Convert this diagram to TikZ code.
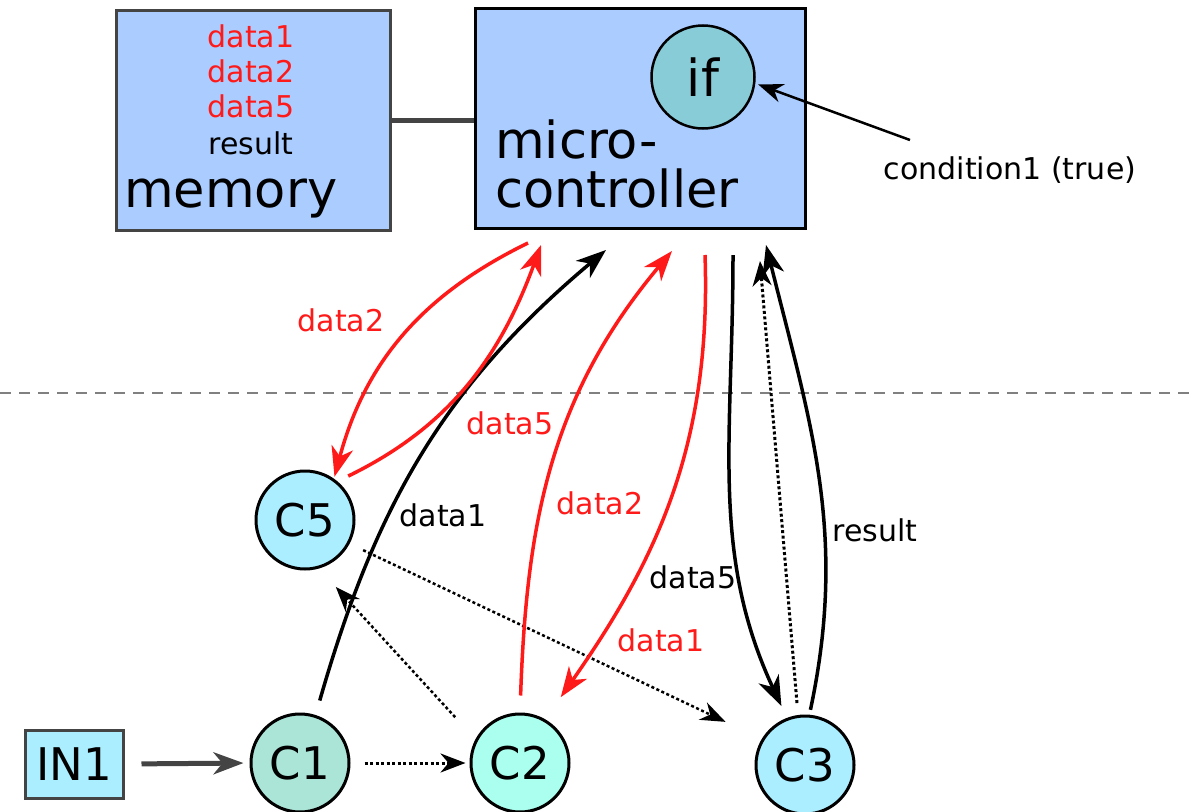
\documentclass[tikz,border=0pt]{standalone}
\usepackage{fontspec}
\setmainfont{DejaVu Sans}
\usetikzlibrary{arrows.meta}
\definecolor{boxblue}{HTML}{AACCFF}
\definecolor{iffill}{HTML}{88CCD8}
\definecolor{cyanfill}{HTML}{AAEEFF}
\definecolor{cafill}{HTML}{AAE5D8}
\definecolor{cbfill}{HTML}{AAFFEE}
\definecolor{dgray}{HTML}{444444}
\definecolor{lred}{HTML}{FF1A1A}
\newcommand\Bigfnt{\fontsize{51}{51}\selectfont}
\newcommand\labfnt{\fontsize{30}{30}\selectfont}
\newcommand\cfnt{\fontsize{45}{45}\selectfont}
\begin{document}
\begin{tikzpicture}[x=1pt,y=1pt,
  bigtip/.style={-{Stealth[length=30pt,width=22pt,inset=9pt]}},
  smalltip/.style={-{Stealth[length=25pt,width=19pt,inset=8pt]}},
  bigbox/.style={draw=black,line width=3pt,fill=boxblue,rectangle,inner sep=0pt},
  cnode/.style={draw=black,line width=3pt,circle,minimum size=98pt,inner sep=0pt,font=\cfnt},
  txt/.style={inner sep=0pt},
  redl/.style={draw=lred,line width=3.5pt,bigtip},
  blkl/.style={draw=black,line width=3.5pt,bigtip},
  dotl/.style={draw=black,line width=3pt,dash pattern=on 3pt off 2.5pt,smalltip},
]
\useasboundingbox (0,0) rectangle (1196,-811);
% boxes
\node[bigbox,draw=dgray,minimum width=274pt,minimum height=220pt] (mem) at (253,-120) {};
\node[bigbox,minimum width=330pt,minimum height=220pt] (mc) at (640,-118) {};
\draw[dgray,line width=5pt] (mem.east) -- (mem.east -| mc.west);
\node[draw=black,line width=2.5pt,fill=iffill,circle,minimum size=103pt,inner sep=0pt,font=\Bigfnt] (if) at (703,-77) {if};
\node[txt,lred,anchor=base,font=\labfnt] (d1) at (251,-47) {data1};
\node[txt,lred,anchor=base,font=\labfnt] (d2) at (251,-82) {data2};
\node[txt,lred,anchor=base,font=\labfnt] (d5) at (251,-117) {data5};
\node[txt,anchor=base,font=\labfnt] (res) at (251,-154) {result};
\node[txt,anchor=base west,font=\Bigfnt] (memt) at (124,-207) {memory};
\node[txt,anchor=base west,font=\Bigfnt] (mct1) at (495,-158) {micro-};
\node[txt,anchor=base west,font=\Bigfnt] (mct2) at (495,-207) {controller};
\node[txt,font=\labfnt] (cond) at (1010,-170) {condition1 (true)};
% dashed separator
\coordinate (sl) at (0,-393);
\coordinate (sr) at (1196,-393);
\draw[gray,line width=2pt,dash pattern=on 11pt off 8pt] (sl) -- (sr);
% lower nodes
\node[draw=dgray,line width=3pt,fill=cyanfill,minimum width=98pt,minimum height=68pt,inner sep=0pt,font=\cfnt] (in1) at (74,-764) {IN1};
\node[cnode,fill=cafill] (C1) at (300,-763) {C1};
\node[cnode,fill=cbfill] (C2) at (520,-763) {C2};
\node[cnode,fill=cyanfill] (C3) at (805,-765) {C3};
\node[cnode,fill=cyanfill] (C5) at (305,-520) {C5};
% free ends below the micro-controller
\coordinate (m1) at (528,-243);
\coordinate (m2) at (541,-245);
\coordinate (m3) at (606,-250);
\coordinate (m4) at (672,-251);
\coordinate (m5) at (705,-255);
\coordinate (m6) at (733,-255);
\coordinate (m7) at (760,-261);
\coordinate (m8) at (766,-245);
\coordinate (cs) at (910,-140);
% connectors
\draw[dgray,line width=5pt,bigtip,shorten <=17pt,shorten >=6pt] (in1.east) -- (C1.west);
\draw[dotl,shorten <=14pt,shorten >=4pt] (C1.east) -- (C2.west);
\draw[dotl,line width=2.5pt,shorten <=30pt,shorten >=25pt] (C2.152) -- (C5.-74);
\draw[dotl,line width=2.5pt,shorten <=15pt,shorten >=40pt] (C5.-28) -- (C3.149);
\draw[blkl,shorten <=15pt] (C1.72) to[out=74,in=220] (m3);
\draw[redl,shorten >=2pt] (m1) to[out=206,in=75] (C5.55);
\draw[redl,shorten <=12pt] (C5.50) to[out=26,in=250] (m2);
\draw[redl,shorten <=17pt] (C2.north) to[out=88,in=230] (m4);
\draw[redl,shorten >=27pt] (m5) to[out=-88,in=55] (C2.60);
\draw[blkl,shorten >=13pt] (m6) to[out=-90,in=115] (C3.111);
\draw[dotl,shorten <=12pt] (C3.98) -- (m7);
\draw[blkl,shorten <=5pt] (C3.85) to[out=78,in=-76] (m8);
\draw[black,line width=2.5pt,smalltip,shorten >=3pt] (cs) -- (if.-7);
% labels
\node[txt,lred,font=\labfnt] (l1) at (341,-320) {data2};
\node[txt,lred,font=\labfnt] (l2) at (510,-423) {data5};
\node[txt,font=\labfnt] (l3) at (443,-515) {data1};
\node[txt,lred,font=\labfnt] (l4) at (600,-503) {data2};
\node[txt,font=\labfnt] (l5) at (693,-577) {data5};
\node[txt,lred,font=\labfnt] (l6) at (661,-640) {data1};
\node[txt,font=\labfnt] (l7) at (875,-530) {result};
\end{tikzpicture}
\end{document}
